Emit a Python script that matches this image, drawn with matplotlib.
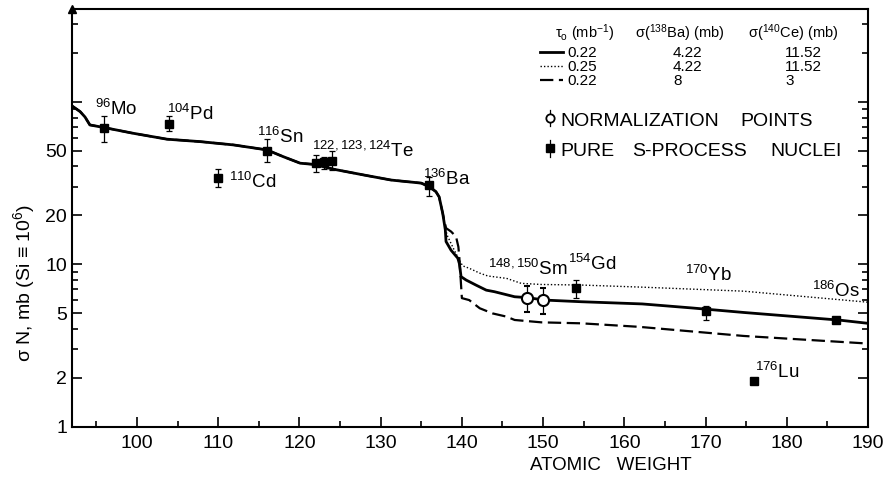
import matplotlib
matplotlib.use("Agg")
import matplotlib.pyplot as plt
from matplotlib.lines import Line2D

plt.rcParams['font.family'] = ['Liberation Sans', 'DejaVu Sans']
plt.rcParams['mathtext.default'] = 'regular'

# common part of the three curves (up to the drop at A~138)
common_x = [92.0, 93.0, 93.6, 94.2, 96.0, 99.5, 103.7, 107.8, 111.9, 116.0, 118.0, 120.1,
            121.8, 124.3, 128.0, 131.3, 135.0, 136.0, 136.8, 137.2, 137.64]
common_y = [94.4, 87.1, 80.7, 72.1, 69.4, 64.1, 58.9, 56.9, 54.3, 50.6, 46.0, 41.9,
            41.2, 38.4, 35.4, 33.0, 31.6, 30.0, 28.0, 26.0, 20.6]

# tau0 = 0.22, sigma(138Ba) = 4.22, sigma(140Ce) = 11.52
solid_x = [137.96, 138.05, 138.67, 139.5, 139.69, 139.9, 140.52, 141.75, 143.0, 144.0,
           146.5, 148.1, 150.2, 154.7, 162.2, 168.4, 174.7, 186.5, 190.0]
solid_y = [16.3, 13.8, 12.2, 10.9, 10.1, 8.39, 8.0, 7.44, 6.93, 6.78,
           6.31, 6.23, 6.02, 5.88, 5.70, 5.38, 5.05, 4.53, 4.33]

# tau0 = 0.25
dotted_x = [137.96, 138.26, 139.07, 139.69, 140.1, 140.9, 142.2, 143.2, 145.5, 147.3,
            149.8, 154.7, 162.2, 174.7, 190.0]
dotted_y = [16.5, 14.8, 12.2, 10.6, 9.78, 9.45, 8.82, 8.47, 8.19, 7.63,
            7.51, 7.45, 7.23, 6.83, 5.84]

# tau0 = 0.22, sigma(138Ba) = 8, sigma(140Ce) = 3
dashed_x = [138.05, 138.67, 139.28, 139.57, 139.69, 140.0, 140.9, 142.2, 143.8, 145.5,
            146.5, 149.8, 154.7, 161.8, 174.7, 190.0]
dashed_y = [16.7, 15.9, 14.8, 12.8, 10.9, 6.19, 6.02, 5.36, 4.98, 4.76,
            4.54, 4.39, 4.33, 4.12, 3.62, 3.25]

# pure s-process nuclei
s_mass = [96, 104, 110, 116, 122, 123, 124, 136, 154, 170, 176, 186]
s_val = [69.0, 73.4, 34.0, 50.0, 41.9, 42.5, 43.4, 30.8, 7.13, 5.13, 1.91, 4.53]
s_hi = [82.2, 82.2, 38.6, 58.9, 47.1, 45.5, 50.1, 34.6, 7.95, 5.56, 1.97, 4.66]
s_lo = [56.4, 66.0, 30.0, 42.5, 36.9, 38.8, 38.1, 26.3, 6.20, 4.53, 1.85, 4.40]

# normalization points (148Sm, 150Sm)
n_mass = [148, 150]
n_val = [6.23, 6.0]
n_hi = [7.38, 7.11]
n_lo = [5.06, 4.94]

# nuclide labels: (mass text, symbol, x, y)
labels = [('96', 'Mo', 94.8, 83.0), ('104', 'Pd', 103.7, 77.4), ('110', 'Cd', 111.3, 29.5),
          ('116', 'Sn', 114.8, 55.8), ('122,123,124', 'Te', 121.6, 45.8),
          ('136', 'Ba', 135.2, 30.8), ('148,150', 'Sm', 143.2, 8.59),
          ('154', 'Gd', 153.1, 9.22), ('170', 'Yb', 167.5, 7.88),
          ('186', 'Os', 183.1, 6.29), ('176', 'Lu', 176.1, 2.0)]

W, H = 884, 478
fig = plt.figure(figsize=(W / 100, H / 100), dpi=100)
ax = fig.add_axes([72 / W, 1 - 426.7 / H, 796 / W, 417.7 / H])

ax.plot(common_x + solid_x, common_y + solid_y, color='black', lw=2.0)
ax.plot(common_x + dotted_x, common_y + dotted_y, color='black', lw=1.0, linestyle=(0, (1, 1.5)))
ax.plot(common_x + dashed_x, common_y + dashed_y, color='black', lw=1.6, linestyle=(0, (6, 2.5)))

s_err = [[v - l for v, l in zip(s_val, s_lo)], [h - v for v, h in zip(s_val, s_hi)]]
ax.errorbar(s_mass, s_val, yerr=s_err, fmt='s', color='black', ms=6, capsize=2.5,
            elinewidth=0.9, capthick=0.9, zorder=4)
n_err = [[v - l for v, l in zip(n_val, n_lo)], [h - v for v, h in zip(n_val, n_hi)]]
ax.errorbar(n_mass, n_val, yerr=n_err, fmt='o', mfc='white', mec='black', mew=1.5,
            color='black', ms=8, capsize=2.5, elinewidth=0.9, capthick=0.9, zorder=5)

for mass, sym, x, y in labels:
    ax.text(x, y, '$^{%s}$%s' % (mass, sym), fontsize=13.5, va='baseline', ha='left')

ax.set_yscale('log')
ax.set_xlim(92, 190)
ax.set_ylim(1, 373)
ax.set_xticks(range(100, 191, 10))
ax.set_xticks(range(95, 190, 5), minor=True)
ax.set_yticks([1, 2, 5, 10, 20, 50, 100])
ax.set_yticklabels(['1', '2', '5', '10', '20', '50', ''])
ax.tick_params(which='both', direction='in', labelsize=14, right=True, width=1.2)
ax.tick_params(which='major', length=7)
ax.tick_params(which='minor', length=4)
ax.tick_params(axis='x', pad=6)
for s in ax.spines.values():
    s.set_linewidth(1.5)
ax.plot([0], [1], marker='^', color='black', ms=6, transform=ax.transAxes, clip_on=False)


def fx(px):
    return px / W


def fy(py):
    return 1 - py / H


fig.text(fx(611), fy(465.5), 'ATOMIC   WEIGHT', fontsize=13.5, ha='center', va='center')
fig.text(fx(24), fy(283), 'σ N, mb (Si ≡ 10$^6$)', fontsize=14, rotation=90,
         ha='center', va='center')

# legend table
fig.text(fx(555), fy(38), 'τ$_o$ (mb$^{-1}$)', fontsize=10.5)
fig.text(fx(635), fy(38), 'σ($^{138}$Ba) (mb)', fontsize=10.5)
fig.text(fx(748), fy(38), 'σ($^{140}$Ce) (mb)', fontsize=10.5)
rows = [('-', 2.0, ('0.22', '4.22', '11.52')),
        ((0, (1, 1.5)), 1.0, ('0.25', '4.22', '11.52')),
        ((0, (6, 2.5)), 1.6, ('0.22', '8', '3'))]
for i, (ls, lw, vals) in enumerate(rows):
    yy = 51.7 + i * 14.2
    fig.add_artist(Line2D([fx(540), fx(563)], [fy(yy), fy(yy)], color='black', lw=lw, linestyle=ls))
    fig.text(fx(567), fy(yy + 5), vals[0], fontsize=11)
    fig.text(fx(673), fy(yy + 5), vals[1], fontsize=11)
    fig.text(fx(785), fy(yy + 5), vals[2], fontsize=11)

fig.add_artist(Line2D([fx(550), fx(550)], [fy(110), fy(126)], color='black', lw=0.9))
fig.add_artist(Line2D([fx(550)], [fy(118)], marker='o', mfc='white', mec='black', mew=1.3, ms=6))
fig.text(fx(560), fy(125.5), 'NORMALIZATION', fontsize=14)
fig.text(fx(740), fy(125.5), 'POINTS', fontsize=14)
fig.add_artist(Line2D([fx(550), fx(550)], [fy(140), fy(157)], color='black', lw=0.9))
fig.add_artist(Line2D([fx(550)], [fy(148)], marker='s', color='black', ms=5.5))
fig.text(fx(560), fy(156), 'PURE', fontsize=14)
fig.text(fx(632), fy(156), 'S-PROCESS', fontsize=14)
fig.text(fx(770), fy(156), 'NUCLEI', fontsize=14)

fig.savefig('out.png', dpi=100)
